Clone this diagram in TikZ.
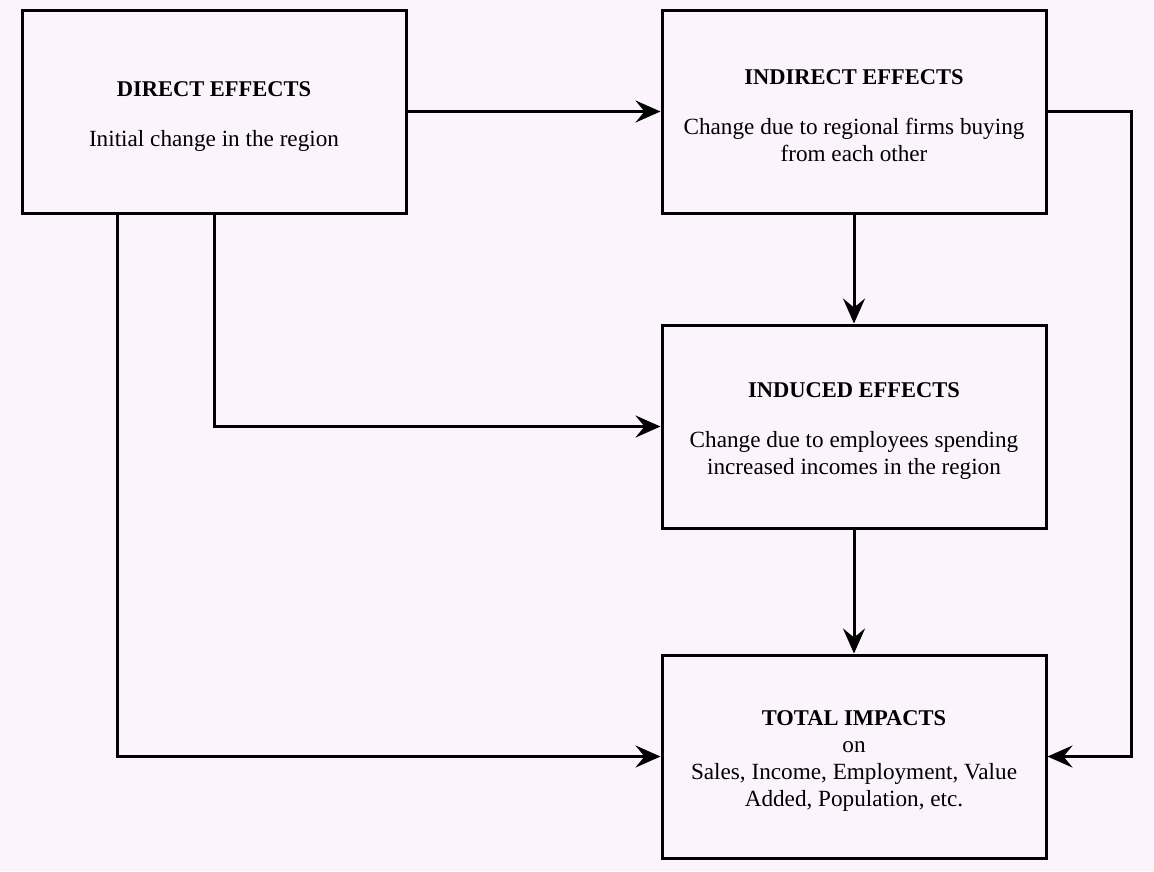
\documentclass[tikz,border=0pt]{standalone}
\usepackage{fontspec}
\setmainfont{Liberation Serif}
\usetikzlibrary{arrows.meta}

\definecolor{bgpink}{RGB}{252,244,252}

\newcommand{\boxtitle}[1]{{\fontsize{22.5}{27}\selectfont\bfseries\rule{0pt}{24pt}#1}}

\tikzset{
  effectbox/.style={draw=black,fill=bgpink,line width=3pt,minimum width=384pt,minimum height=203pt,
    align=center,inner sep=0pt,font=\fontsize{23.2}{27}\selectfont},
  flow/.style={line width=3pt,-{Stealth[length=25pt,width=22pt,inset=9pt]}}
}

\begin{document}
\begin{tikzpicture}[x=1pt,y=1pt,yscale=-1]
%set diagram size
\fill [bgpink] (0,0) rectangle (1154,871);
\useasboundingbox (0,0) rectangle (1154,871);

%Shape: Rectangle [direct]
\node [effectbox] (direct) at (214,111.5) {\boxtitle{DIRECT EFFECTS}\\[23pt]Initial change in the region};
%Shape: Rectangle [indirect]
\node [effectbox] (indirect) at (854,111.5) {\boxtitle{INDIRECT EFFECTS}\\[23pt]Change due to regional firms buying\\from each other};
%Shape: Rectangle [induced]
\node [effectbox] (induced) at (854,426.5) {\boxtitle{INDUCED EFFECTS}\\[23pt]Change due to employees spending\\increased incomes in the region};
%Shape: Rectangle [total]
\node [effectbox] (total) at (854,756.5) {\boxtitle{TOTAL IMPACTS}\\on\\Sales, Income, Employment, Value\\Added, Population, etc.};

%Corners of the outer lines
\coordinate (directleft) at ([xshift=-97pt]direct.south);
\coordinate (turn) at (1131,111.5);

%Straight Lines
\draw [flow] (direct.east) -- (indirect.west);
\draw [flow] (direct.south) |- (induced.west);
\draw [flow] (directleft) |- (total.west);
\draw [flow] (indirect.south) -- (induced.north);
\draw [flow] (induced.south) -- (total.north);
\draw [flow] (indirect.east) -- (turn) |- (total.east);

\end{tikzpicture}
\end{document}
